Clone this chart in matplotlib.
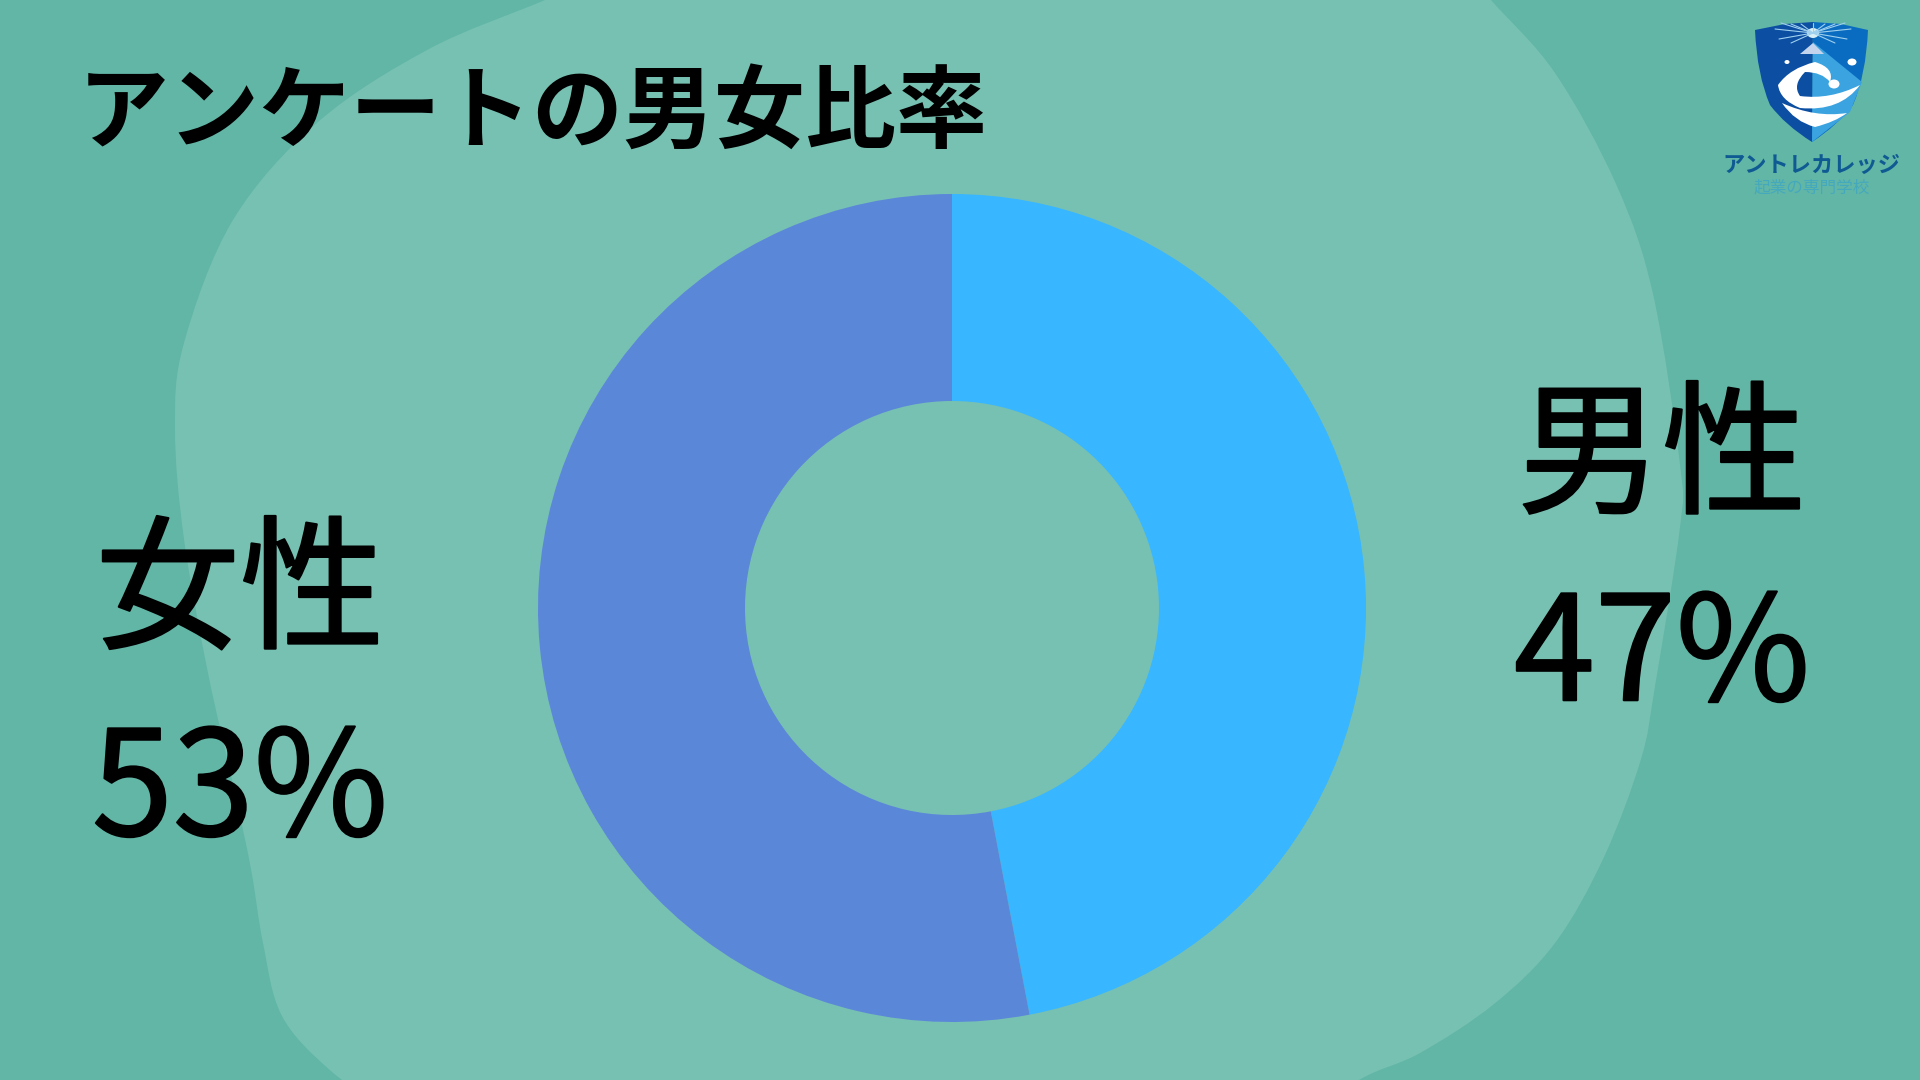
import matplotlib
matplotlib.use("Agg")
import matplotlib.pyplot as plt
import matplotlib.patheffects as pe
from matplotlib.patches import PathPatch, Polygon, Ellipse
from matplotlib.path import Path

plt.rcParams['font.family'] = ['Noto Sans CJK JP', 'DejaVu Sans']

title = "アンケートの男女比率"
labels = ["男性", "女性"]
shares = [47, 53]
colors = ["#38b6ff", "#5b87d9"]
bg_color = "#62b6a6"
blob_color = "#77c1b2"

# blob outline, in picture pixels, closes off canvas
blob_pts = [(660, -50), (545, 0), (429, 49), (318, 122), (233, 220), (184, 343), (175, 429),
            (184, 539), (208, 673), (233, 784), (251, 869), (263, 943), (282, 1016), (331, 1071),
            (400, 1120), (500, 1200), (1200, 1200), (1290, 1130), (1359, 1080), (1420, 1053),
            (1494, 1004), (1555, 943), (1604, 857), (1641, 759), (1655, 686), (1680, 527),
            (1680, 465), (1653, 294), (1616, 184), (1555, 73), (1491, 0), (1440, -60)]


def smooth_closed(pts):
    verts = [pts[0]]
    codes = [Path.MOVETO]
    n = len(pts)
    for i in range(n):
        p0 = pts[(i - 1) % n]
        p1 = pts[i]
        p2 = pts[(i + 1) % n]
        p3 = pts[(i + 2) % n]
        c1 = (p1[0] + (p2[0] - p0[0]) / 6, p1[1] + (p2[1] - p0[1]) / 6)
        c2 = (p2[0] - (p3[0] - p1[0]) / 6, p2[1] - (p3[1] - p1[1]) / 6)
        verts += [c1, c2, p2]
        codes += [Path.CURVE4] * 3
    return Path(verts, codes)


fig = plt.figure(figsize=(19.2, 10.8), dpi=100, facecolor=bg_color)
bg = fig.add_axes([0, 0, 1, 1])
bg.set_xlim(0, 1920)
bg.set_ylim(1080, 0)
bg.axis("off")

bg.add_patch(PathPatch(smooth_closed(blob_pts), fc=blob_color, ec="none"))

# donut
ax = fig.add_axes([538 / 1920, 1 - 1022 / 1080, 828 / 1920, 828 / 1080])
ax.pie(shares, colors=colors, startangle=90, counterclock=False, radius=1,
       wedgeprops=dict(width=0.5, linewidth=0))
ax.set_xlim(-1, 1)
ax.set_ylim(-1, 1)

thick = [pe.withStroke(linewidth=1.5, foreground="black")]
bg.text(78, 114, title, fontsize=65.5, fontweight="bold", color="black", va="center", ha="left")
bg.text(1662, 461, labels[0], fontsize=104, color="black", va="center", ha="center", path_effects=thick)
bg.text(1662, 659, f"{shares[0]}%", fontsize=105, color="black", va="center", ha="center", path_effects=thick)
bg.text(240, 596, labels[1], fontsize=104, color="black", va="center", ha="center", path_effects=thick)
bg.text(240, 794, f"{shares[1]}%", fontsize=105, color="black", va="center", ha="center", path_effects=thick)

# logo
left_half = Path([(1813, 22), (1785, 24), (1755, 30), (1757, 75), (1770, 105), (1785, 125), (1812, 142)],
                 [Path.MOVETO, Path.LINETO, Path.LINETO, Path.CURVE3, Path.CURVE3, Path.CURVE3, Path.CURVE3])
right_half = Path([(1813, 22), (1841, 24), (1868, 30), (1866, 75), (1853, 105), (1838, 125), (1812, 142)],
                  [Path.MOVETO, Path.LINETO, Path.LINETO, Path.CURVE3, Path.CURVE3, Path.CURVE3, Path.CURVE3])
bg.add_patch(PathPatch(left_half, fc="#0b4ea2", ec="none"))
bg.add_patch(PathPatch(right_half, fc="#0a6cc0", ec="none"))
bg.add_patch(Polygon([(1813, 42), (1862, 82), (1850, 112), (1812, 142)], closed=True, fc="#3aa3e0", ec="none"))
for dx, dy in [(-38, -4), (-32, -10), (-22, -9), (-12, -9), (0, -10), (12, -9), (22, -9), (32, -10), (38, -4),
               (-34, 6), (-22, 10), (22, 10), (34, 6)]:
    bg.plot([1813, 1813 + dx], [33, 33 + dy], color="#9fd0ee", lw=0.8, solid_capstyle="round")
bg.add_patch(Ellipse((1813, 33), 12, 10, fc="#d8f0f5", ec="none"))
bg.add_patch(Polygon([(1813, 43), (1800, 54), (1824, 54)], closed=True, fc="#c4d4ec", ec="none"))
bg.add_patch(Ellipse((1787, 62), 5, 4, fc="white", ec="none"))
bg.add_patch(Ellipse((1852, 62), 9, 7, fc="white", ec="none"))
bg.add_patch(Ellipse((1834, 84), 11, 9, fc="white", ec="none"))
wave = Path([(1860, 85), (1840, 112), (1800, 108), (1780, 100), (1778, 85), (1790, 68), (1815, 62),
             (1835, 68), (1830, 82), (1822, 72), (1805, 72), (1792, 85), (1800, 96), (1830, 100),
             (1860, 85)],
            [Path.MOVETO] + [Path.CURVE3] * 14)
bg.add_patch(PathPatch(wave, fc="white", ec="none"))
wave2 = Path([(1782, 103), (1795, 122), (1815, 127), (1835, 122), (1847, 113), (1815, 118), (1782, 103)],
             [Path.MOVETO] + [Path.CURVE3] * 6)
bg.add_patch(PathPatch(wave2, fc="white", ec="none"))
bg.text(1811, 165, "アントレカレッジ", fontsize=16, fontweight="bold", color="#0f5a92", ha="center", va="center")
bg.text(1812, 188, "起業の専門学校", fontsize=12, color="#45a9bd", ha="center", va="center")

fig.savefig("out.png", dpi=100, facecolor=bg_color)
